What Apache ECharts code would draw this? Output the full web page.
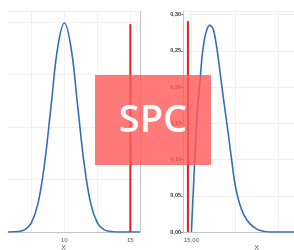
<!DOCTYPE html>
<html>
<head>
<meta charset="utf-8">
<script src="https://cdn.jsdelivr.net/npm/echarts@6.0.0/dist/echarts.min.js"></script>
<style>
  html, body { margin: 0; padding: 0; background: #fff; }
  #chart { width: 294px; height: 250px; }
</style>
</head>
<body>
<div id="chart"></div>
<script>
// linke Verteilung (Mittelwert 10)
const leftX = [5.73, 6.5, 7, 7.5, 8, 8.5, 9, 9.5, 10, 10.5, 11, 11.5, 12, 12.5, 13, 13.5, 14, 15.73];
const leftY = [0, 0.0009, 0.0044, 0.0175, 0.054, 0.13, 0.242, 0.352, 0.398, 0.352, 0.242, 0.13, 0.054, 0.0175, 0.0044, 0.0009, 0.0001, 0];
const leftLimit = [15, 0.396];

// rechte Verteilung (beginnt bei 15)
const rightX = [15.0, 15.05, 15.115, 15.207, 15.25, 15.32, 15.42, 15.5, 15.58, 15.667, 15.74, 15.82, 15.92, 16.0, 16.09, 16.2, 16.34, 16.5, 16.65, 16.8, 18.2];
const rightY = [0, 0.065, 0.147, 0.216, 0.245, 0.272, 0.2855, 0.28, 0.255, 0.216, 0.182, 0.147, 0.101, 0.066, 0.042, 0.024, 0.0116, 0.004, 0.001, 0, 0];
const rightLimit = [14.92, 0.291];

const leftTicks = [7.5, 10, 12.5, 15];
const leftLabels = [10, 15];
const rightTicks = [15, 16, 17, 18];
const rightLabels = [15];

const zip = (xs, ys) => xs.map((x, i) => [x, ys[i]]);

const gridColor = '#f1f1f1';
const axisColor = '#c4c4c4';
const blue = '#2f6fbe';
const red = '#e0221f';

let chart = echarts.init(document.getElementById('chart'), null, { renderer: 'canvas' });
chart.setOption({
  animation: false,
  grid: [
    { left: 8, right: 154, top: 11, bottom: 18, outerBoundsMode: 'none', containLabel: false },
    { left: 183, right: -36, top: 11, bottom: 18, outerBoundsMode: 'none', containLabel: false }
  ],
  xAxis: [
    {
      gridIndex: 0, type: 'value', min: 5.73, max: 15.73,
      name: 'X', nameLocation: 'middle', nameGap: 13, nameMoveOverlap: false,
      nameTextStyle: { fontSize: 7, color: '#555', padding: [0, 21, 0, 0] },
      axisLine: { show: true, lineStyle: { color: axisColor } },
      axisTick: { show: false, customValues: leftTicks },
      axisLabel: { customValues: leftLabels, fontSize: 6, color: '#555', margin: 5 },
      splitLine: { show: true, customValues: leftTicks, lineStyle: { color: gridColor } }
    },
    {
      gridIndex: 1, type: 'value', min: 14.807, max: 18.18,
      name: 'X', nameLocation: 'middle', nameGap: 13, nameMoveOverlap: false,
      nameTextStyle: { fontSize: 7, color: '#555' },
      axisLine: { show: true, lineStyle: { color: axisColor } },
      axisTick: { show: false, customValues: rightTicks },
      axisLabel: {
        customValues: rightLabels, fontSize: 6, color: '#555', margin: 5,
        formatter: v => v.toFixed(2).replace('.', ',')
      },
      splitLine: { show: true, customValues: rightTicks, lineStyle: { color: gridColor } }
    }
  ],
  yAxis: [
    {
      gridIndex: 0, type: 'value', min: 0, max: 0.421, interval: 0.1,
      position: 'right',
      axisLine: { show: true, lineStyle: { color: axisColor } },
      axisTick: { show: false },
      axisLabel: { show: false },
      splitLine: { show: true, lineStyle: { color: gridColor } }
    },
    {
      gridIndex: 1, type: 'value', min: 0, max: 0.305, interval: 0.05,
      axisLine: { show: true, lineStyle: { color: axisColor } },
      axisTick: { show: true, length: 2, lineStyle: { color: '#888' } },
      axisLabel: {
        fontSize: 5.5, color: '#333', fontWeight: 'bold', margin: 2,
        formatter: v => v.toFixed(2).replace('.', ',')
      },
      splitLine: { show: true, lineStyle: { color: gridColor } }
    }
  ],
  series: [
    {
      type: 'line', xAxisIndex: 0, yAxisIndex: 0, data: zip(leftX, leftY),
      smooth: 0.4, showSymbol: false, lineStyle: { color: blue, width: 1.6 }
    },
    {
      type: 'line', xAxisIndex: 0, yAxisIndex: 0,
      data: [[leftLimit[0], 0], leftLimit],
      showSymbol: false, lineStyle: { color: red, width: 2 }
    },
    {
      type: 'line', xAxisIndex: 1, yAxisIndex: 1, data: zip(rightX, rightY),
      smooth: 0.3, showSymbol: false, lineStyle: { color: blue, width: 1.6 }
    },
    {
      type: 'line', xAxisIndex: 1, yAxisIndex: 1,
      data: [[rightLimit[0], 0], rightLimit],
      showSymbol: false, lineStyle: { color: red, width: 2 }
    }
  ],
  graphic: [
    {
      type: 'rect', z: 100,
      shape: { x: 95, y: 75, width: 116, height: 90 },
      style: { fill: 'rgba(255, 92, 92, 0.82)' }
    },
    {
      type: 'text', z: 101, x: 153, y: 121,
      style: {
        text: 'SPC', fill: '#fff', fontSize: 38, fontWeight: 600,
        fontFamily: 'Open Sans', align: 'center', verticalAlign: 'middle'
      }
    }
  ]
});
</script>
</body>
</html>
